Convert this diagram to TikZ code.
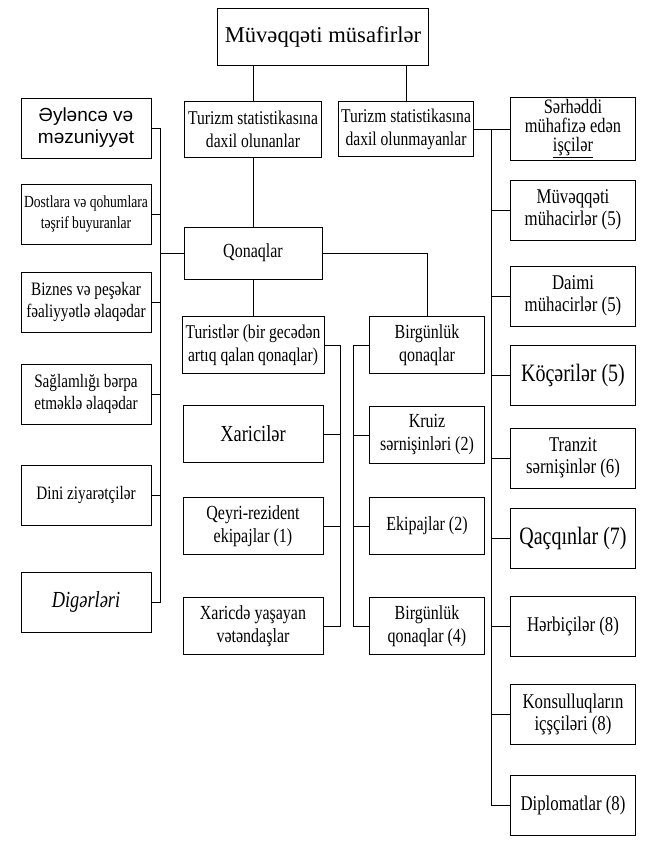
\documentclass[tikz,border=0pt]{standalone}
\usepackage{fontspec}
\setmainfont{Liberation Serif}[FakeStretch=0.8]
\newfontfamily\plainserif{Liberation Serif}
\newfontfamily\arialfont{Liberation Sans}

\begin{document}
\begin{tikzpicture}
  [x=1pt,y=-1pt,
box/.style={draw, line width=0.8pt, align=center, inner sep=1pt,
  font=\fontsize{20}{23}\selectfont},
lbox/.style={box, minimum width=130pt, minimum height=60pt,
  font=\fontsize{19}{22}\selectfont},
cbox/.style={box, minimum width=140pt, minimum height=57pt},
mbox/.style={box, minimum width=115pt, minimum height=57pt},
rbox/.style={box, minimum width=125pt, minimum height=60pt,
  font=\fontsize{21}{22}\selectfont},
big/.style={font=\fontsize{25}{27}\selectfont},
edge/.style={line width=0.8pt}]

\useasboundingbox (0,0) rectangle (650,847);

\coordinate (LT) at (160,0);
\coordinate (XT) at (340,0);
\coordinate (DT) at (353,0);
\coordinate (RT) at (491,0);

\node (Top) at (323,37) [box,minimum width=211pt,minimum height=57pt,
  font=\plainserif\fontsize{22.6}{25}\selectfont] {Müvəqqəti müsafirlər};
\node (In) at (253,129) [box,minimum width=137pt,minimum height=56pt,
  font=\fontsize{19.5}{23}\selectfont] {Turizm statistikasına\\daxil olunanlar};
\node (Out) at (406,129) [box,minimum width=135pt,minimum height=55pt,
  font=\fontsize{19.5}{23}\selectfont] {Turizm statistikasına\\daxil olunmayanlar};
\node (Q) at (253,253) [box,minimum width=138pt,minimum height=52pt] {Qonaqlar};

% left column
\node (L1) at (86,128) [lbox,font=\arialfont\fontsize{19}{22}\selectfont]
  {Əyləncə və\\məzuniyyət};
\node (L2) at (86,214) [lbox,font=\fontsize{17}{21}\selectfont]
  {Dostlara və qohumlara\\təşrif buyuranlar};
\node (L3) at (86,302) [lbox] {Biznes və peşəkar\\fəaliyyətlə əlaqədar};
\node (L4) at (86,394) [lbox] {Sağlamlığı bərpa\\etməklə əlaqədar};
\node (L5) at (86,495) [lbox] {Dini ziyarətçilər};
\node (L6) at (86,602) [lbox,font=\itshape\fontsize{23}{25}\selectfont] {Digərləri};

% tourists and same-day visitors
\node (Tur) at (253,345) [cbox,minimum width=142pt,font=\fontsize{19.5}{23}\selectfont]
  {Turistlər (bir gecədən\\artıq qalan qonaqlar)};
\node (X1) at (253,434) [cbox,font=\fontsize{23}{25}\selectfont] {Xaricilər};
\node (X2) at (253,526) [cbox] {Qeyri-rezident\\ekipajlar (1)};
\node (X3) at (253,626) [cbox] {Xaricdə yaşayan\\vətəndaşlar};

\node (Day) at (427,345) [mbox] {Birgünlük\\qonaqlar};
\node (D1) at (427,435) [mbox] {Kruiz\\sərnişinləri (2)};
\node (D2) at (427,526) [mbox] {Ekipajlar (2)};
\node (D3) at (427,626) [mbox] {Birgünlük\\qonaqlar (4)};

% right column
\node (R1) at (573,129) [rbox,minimum height=63pt,font=\fontsize{20.5}{19}\selectfont]
  {Sərhəddi\\mühafizə edən\\\underline{işçilər}};
\node (R2) at (573,210) [rbox] {Müvəqqəti\\mühacirlər (5)};
\node (R3) at (573,296) [rbox] {Daimi\\mühacirlər (5)};
\node (R4) at (573,375) [rbox,big] {Köçərilər (5)};
\node (R5) at (573,458) [rbox] {Tranzit\\sərnişinlər (6)};
\node (R6) at (573,538) [rbox,big] {Qaçqınlar (7)};
\node (R7) at (573,626) [rbox] {Hərbiçilər (8)};
\node (R8) at (573,714) [rbox] {Konsulluqların\\içşçiləri (8)};
\node (R9) at (573,805) [rbox] {Diplomatlar (8)};

\draw [edge] (Top.south -| In) -- (In);
\draw [edge] (Top.south -| Out) -- (Out);
\draw [edge] (In) -- (Q);
\draw [edge] (Q) -- (Tur);
\draw [edge] (Q) -| (Day);

\draw [edge] (Q.west) -- (Q -| LT);
\draw [edge] (L1.east) -- (L1 -| LT) -- (L6 -| LT) -- (L6.east);
\draw [edge] (L2.east) -- (L2 -| LT);
\draw [edge] (L3.east) -- (L3 -| LT);
\draw [edge] (L4.east) -- (L4 -| LT);
\draw [edge] (L5.east) -- (L5 -| LT);

\draw [edge] (Tur.east) -- (Tur -| XT) -- (X3 -| XT) -- (X3.east);
\draw [edge] (X1.east) -- (X1 -| XT);
\draw [edge] (X2.east) -- (X2 -| XT);

\draw [edge] (Day.west) -- (Day -| DT) -- (D3 -| DT) -- (D3.west);
\draw [edge] (D1.west) -- (D1 -| DT);
\draw [edge] (D2.west) -- (D2 -| DT);

\draw [edge] (Out.east) -- (R1.west);
\draw [edge] (R1 -| RT) -- (R9 -| RT) -- (R9.west);
\draw [edge] (R2.west) -- (R2 -| RT);
\draw [edge] (R3.west) -- (R3 -| RT);
\draw [edge] (R4.west) -- (R4 -| RT);
\draw [edge] (R5.west) -- (R5 -| RT);
\draw [edge] (R6.west) -- (R6 -| RT);
\draw [edge] (R7.west) -- (R7 -| RT);
\draw [edge] (R8.west) -- (R8 -| RT);

\end{tikzpicture}
\end{document}
